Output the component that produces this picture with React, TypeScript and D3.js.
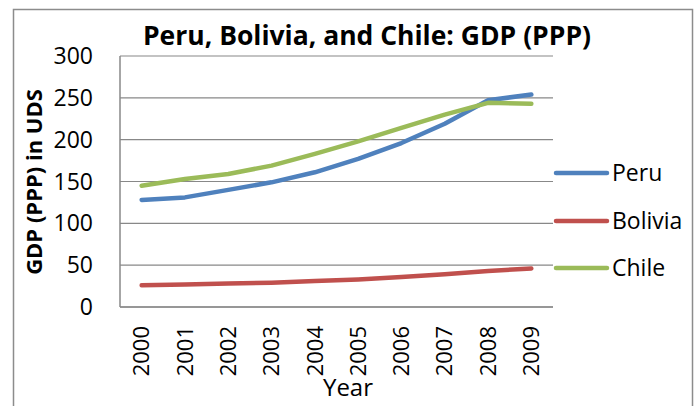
import React, { useEffect, useRef } from "react";
import * as d3 from "d3";

const years = ["2000", "2001", "2002", "2003", "2004", "2005", "2006", "2007", "2008", "2009"];
const peru = [128, 131, 140, 149, 161, 177, 196, 219, 247, 254];
const bolivia = [26, 27, 28, 29, 31, 33, 36, 39, 43, 46];
const chile = [145, 153, 159, 169, 183, 198, 214, 230, 244, 243];
const seriesNames = ["Peru", "Bolivia", "Chile"];
const colors = ["#4F81BD", "#C0504D", "#9BBB59"];
const yTicks = [0, 50, 100, 150, 200, 250, 300];

function App() {
  const svgRef = useRef<SVGSVGElement>(null);

  useEffect(() => {
    const width = 700;
    const height = 406;
    const font = "Open Sans, sans-serif";
    const svg = d3.select(svgRef.current).attr("width", width).attr("height", height);
    svg.selectAll("*").remove();

    // outer frame
    svg.append("rect")
      .attr("x", 13.5).attr("y", 9.5)
      .attr("width", 679).attr("height", 410)
      .attr("fill", "white").attr("stroke", "#8c8c8c").attr("stroke-width", 1.5);

    const left = 120, right = 553, top = 56, bottom = 307;

    const x = d3.scaleBand().domain(years).range([left, right]);
    const y = d3.scaleLinear().domain([0, 300]).range([bottom, top]);

    // gridlines
    svg.append("g")
      .selectAll("line")
      .data(yTicks)
      .join("line")
      .attr("x1", left).attr("x2", right)
      .attr("y1", d => y(d)).attr("y2", d => y(d))
      .attr("stroke", "#888").attr("stroke-width", 1.2);

    // axes lines
    svg.append("line")
      .attr("x1", left).attr("x2", left).attr("y1", top).attr("y2", bottom)
      .attr("stroke", "#888").attr("stroke-width", 1.5);
    svg.append("line")
      .attr("x1", left).attr("x2", right).attr("y1", bottom).attr("y2", bottom)
      .attr("stroke", "#888").attr("stroke-width", 1.5);

    // y tick labels
    svg.append("g")
      .selectAll("text")
      .data(yTicks)
      .join("text")
      .attr("x", 93).attr("y", d => y(d))
      .attr("dy", "0.35em")
      .attr("text-anchor", "end")
      .attr("font-family", font).attr("font-size", 23)
      .text(d => d);

    // x tick labels
    svg.append("g")
      .selectAll("text")
      .data(years)
      .join("text")
      .attr("transform", d => `translate(${x(d)! + x.bandwidth() / 2},326) rotate(-90)`)
      .attr("dy", "0.35em")
      .attr("text-anchor", "end")
      .attr("font-family", font).attr("font-size", 22)
      .text(d => d);

    // lines
    const line = d3.line<number>()
      .x((d, i) => x(years[i])! + x.bandwidth() / 2)
      .y(d => y(d));

    [peru, bolivia, chile].forEach((s, i) => {
      svg.append("path")
        .datum(s)
        .attr("d", line)
        .attr("fill", "none")
        .attr("stroke", colors[i])
        .attr("stroke-width", 4.5)
        .attr("stroke-linecap", "round")
        .attr("stroke-linejoin", "round");
    });

    // legend
    const legendY = [173, 221, 268];
    seriesNames.forEach((n, i) => {
      svg.append("line")
        .attr("x1", 556).attr("x2", 607)
        .attr("y1", legendY[i]).attr("y2", legendY[i])
        .attr("stroke", colors[i]).attr("stroke-width", 4.5)
        .attr("stroke-linecap", "round");
      svg.append("text")
        .attr("x", 612).attr("y", legendY[i])
        .attr("dy", "0.35em")
        .attr("font-family", font).attr("font-size", 23)
        .text(n);
    });

    // title
    svg.append("text")
      .attr("x", 367).attr("y", 45)
      .attr("text-anchor", "middle")
      .attr("font-family", font).attr("font-size", 26.5).attr("font-weight", "bold")
      .text("Peru, Bolivia, and Chile: GDP (PPP)");

    // y axis title
    svg.append("text")
      .attr("transform", "translate(34,182) rotate(-90)")
      .attr("dy", "0.35em")
      .attr("text-anchor", "middle")
      .attr("font-family", font).attr("font-size", 22).attr("font-weight", "bold")
      .text("GDP (PPP) in UDS");

    // x axis title
    svg.append("text")
      .attr("x", 348).attr("y", 396)
      .attr("text-anchor", "middle")
      .attr("font-family", font).attr("font-size", 24)
      .text("Year");
  }, []);

  return (
    <div style={{ position: "absolute", left: 0, top: 0 }}>
      <svg ref={svgRef}></svg>
    </div>
  );
}

export default App;
